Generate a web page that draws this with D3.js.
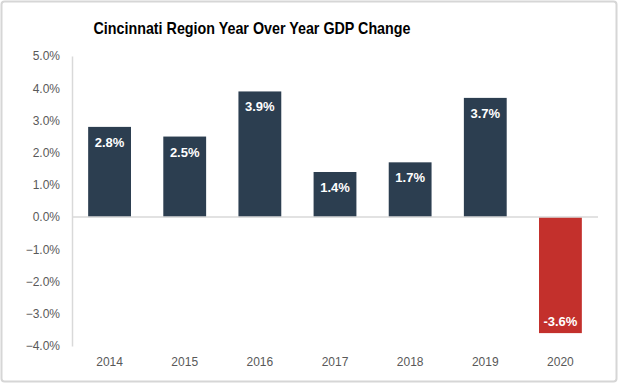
<!DOCTYPE html>
<html>
<head>
<meta charset="utf-8">
<script src="https://cdn.jsdelivr.net/npm/d3@7"></script>
<style>
	body { margin: 0; background: #fff; }
	svg { display: block; font-family: "Liberation Sans", Arial, sans-serif; }
</style>
</head>
<body>
<script>
/* Chart data. */
const years = ['2014', '2015', '2016', '2017', '2018', '2019', '2020'];
const gdpChange = [2.8, 2.5, 3.9, 1.4, 1.7, 3.7, -3.6];
const yTicks = [5, 4, 3, 2, 1, 0, -1, -2, -3, -4];

const width = 618;
const height = 383;
const margin = { top: 56, right: 20, bottom: 37, left: 72 };

const svg = d3.select('body').append('svg')
	.attr('width', width)
	.attr('height', height);

/* Frame. */
svg.append('rect')
	.attr('x', 1.5)
	.attr('y', 1.5)
	.attr('width', width - 3)
	.attr('height', height - 3)
	.attr('rx', 3)
	.attr('fill', '#fff')
	.attr('stroke', '#d6d6d6')
	.attr('stroke-width', 2);

/* Title. */
svg.append('text')
	.attr('x', 252)
	.attr('y', 34)
	.attr('text-anchor', 'middle')
	.attr('font-size', 17)
	.attr('font-weight', 'bold')
	.attr('fill', '#000')
	.attr('textLength', 317)
	.attr('lengthAdjust', 'spacingAndGlyphs')
	.text('Cincinnati Region Year Over Year GDP Change');

/* Scales. */
const xScale = d3.scaleBand()
	.domain(years)
	.range([margin.left, width - margin.right])
	.paddingInner(0.43)
	.paddingOuter(0.215);

const yScale = d3.scaleLinear()
	.domain([-4, 5])
	.range([height - margin.bottom, margin.top]);

/* Y axis. */
const yAxis = svg.append('g')
	.attr('transform', 'translate(' + margin.left + ',0)')
	.call(d3.axisLeft(yScale)
		.tickValues(yTicks)
		.tickSize(0)
		.tickPadding(12)
		.tickFormat(function(d) { return d3.format('.1f')(d) + '%'; }));
yAxis.select('.domain').attr('stroke', '#d9d9d9').attr('stroke-width', 1.5);
yAxis.selectAll('text')
	.attr('font-size', 12)
	.attr('fill', '#595959')
	.attr('font-family', '"Liberation Sans", Arial, sans-serif');

/* Bars. */
svg.selectAll('.bar')
		.data(gdpChange)
	.enter().append('rect')
		.attr('class', 'bar')
		.attr('x', function(_, i) { return xScale(years[i]); })
		.attr('y', function(d) { return yScale(Math.max(0, d)); })
		.attr('width', xScale.bandwidth())
		.attr('height', function(d) { return Math.abs(yScale(d) - yScale(0)); })
		.attr('fill', function(d) { return d < 0 ? '#c3302c' : '#2c3e50'; });

/* Zero line. */
svg.append('line')
	.attr('x1', margin.left)
	.attr('x2', width - margin.right)
	.attr('y1', yScale(0))
	.attr('y2', yScale(0))
	.attr('stroke', '#d9d9d9')
	.attr('stroke-width', 1.5);

/* Value labels. */
svg.selectAll('.value')
		.data(gdpChange)
	.enter().append('text')
		.attr('class', 'value')
		.attr('x', function(_, i) { return xScale(years[i]) + xScale.bandwidth() / 2; })
		.attr('y', function(d) { return d < 0 ? yScale(d) - 12 : yScale(d) + 15.5; })
		.attr('dy', '0.35em')
		.attr('text-anchor', 'middle')
		.attr('font-size', 13)
		.attr('font-weight', 'bold')
		.attr('fill', '#fff')
		.text(function(d) { return d.toFixed(1) + '%'; });

/* Year labels. */
svg.selectAll('.year')
		.data(years)
	.enter().append('text')
		.attr('class', 'year')
		.attr('x', function(d) { return xScale(d) + xScale.bandwidth() / 2; })
		.attr('y', 362)
		.attr('dy', '0.35em')
		.attr('text-anchor', 'middle')
		.attr('font-size', 12)
		.attr('fill', '#595959')
		.text(function(d) { return d; });
</script>
</body>
</html>
